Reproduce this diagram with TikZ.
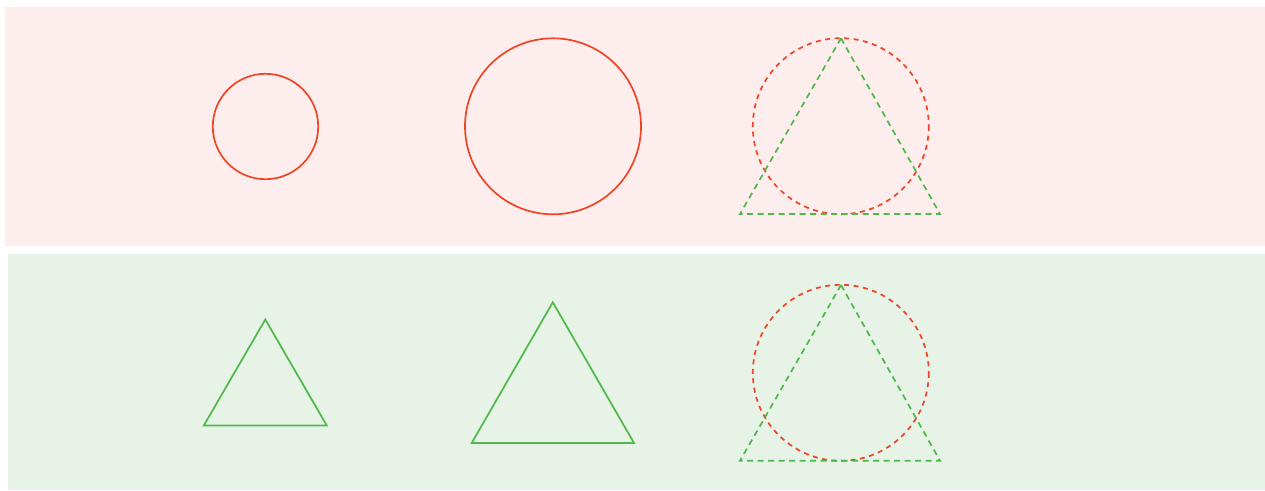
\documentclass[tikz,border=0pt]{standalone}
\definecolor{pinkbg}{RGB}{253,238,237}
\definecolor{greenbg}{RGB}{231,243,230}
\definecolor{redline}{RGB}{240,68,38}
\definecolor{greenline}{RGB}{76,185,72}
\tikzset{
  redshape/.style={draw=redline, line width=1.7pt},
  greenshape/.style={draw=greenline, line width=1.7pt, line join=miter},
  reddash/.style={redshape, dash pattern=on 5pt off 4.5pt},
  greendash/.style={greenshape, dash pattern=on 6pt off 4.5pt},
}
\begin{document}
\begin{tikzpicture}[x=1pt,y=-1pt]
\useasboundingbox (0,0) rectangle (1265,490);
\fill[white] (0,0) rectangle (1265,490);
% panels
\fill[pinkbg] (5,7) rectangle (1265,246);
\fill[greenbg] (8,254) rectangle (1265,490);
% top row: circles
\draw[redshape] (265.5,126.5) circle[radius=52.7];
\draw[redshape] (553,126.3) circle[radius=88];
\draw[reddash] (840.8,126.2) circle[radius=88];
\draw[greendash] (841,38.3) -- (940,214) -- (740,214) -- cycle;
% bottom row: triangles
\draw[greenshape] (265.3,319.5) -- (326.8,425.5) -- (203.8,425.5) -- cycle;
\draw[greenshape] (552.8,302.3) -- (634,443) -- (471.7,443) -- cycle;
\draw[reddash] (840.8,372.8) circle[radius=88];
\draw[greendash] (841,285) -- (940,460.7) -- (740,460.7) -- cycle;
\end{tikzpicture}
\end{document}
